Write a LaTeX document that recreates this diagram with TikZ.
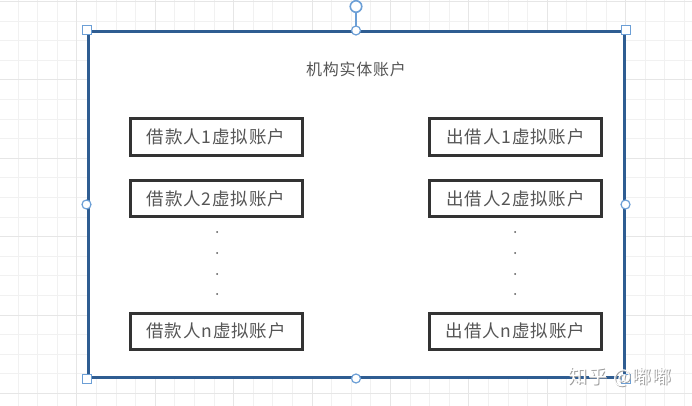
\documentclass[tikz,border=0pt]{standalone}
\usepackage{fontspec}
\newfontfamily\cjkls[LetterSpace=5]{Noto Sans CJK SC}
\newfontfamily\cjk{Noto Sans CJK SC}
\definecolor{gridminor}{HTML}{F1F1F1}
\definecolor{gridmajor}{HTML}{E6E6E6}
\definecolor{framecol}{HTML}{2F5D92}
\definecolor{handlecol}{HTML}{6C9FD6}
\definecolor{boxcol}{HTML}{333333}
\definecolor{txtcol}{HTML}{555555}
\begin{document}
\begin{tikzpicture}[x=1pt,y=-1pt,
  frame/.style={draw=framecol, line width=3pt, fill=white, minimum width=536pt, minimum height=345pt, inner sep=0pt},
  acct/.style={draw=boxcol, line width=3pt, fill=white, minimum width=172pt, minimum height=36pt, inner sep=0pt, text=txtcol, font=\cjkls\fontsize{17.5}{19}\selectfont},
  title/.style={text=txtcol, font=\cjkls\fontsize{16}{18}\selectfont, inner sep=0pt},
  sqhandle/.style={draw=handlecol, line width=1pt, fill=white, minimum size=9pt, inner sep=0pt},
  cihandle/.style={circle, draw=handlecol, line width=1.2pt, fill=white, minimum size=9pt, inner sep=0pt},
  rothandle/.style={circle, draw=handlecol, line width=1.6pt, fill=white, minimum size=11.5pt, inner sep=0pt},
  vdot/.style={circle, fill=txtcol, minimum size=2pt, inner sep=0pt},
  wmark/.style={font=\cjkls\fontsize{19}{21}\selectfont, inner sep=0pt}
]
\useasboundingbox (0,0) rectangle (692,406);
\fill[white] (0,0) rectangle (692,406);
% background grid
\foreach \k in {0,...,35} {
  \pgfmathsetmacro{\gx}{18+19.6*(\k-1)}
  \draw[gridminor, line width=1pt] (\gx,0) -- (\gx,406);
}
\foreach \k in {0,...,21} {
  \pgfmathsetmacro{\gy}{1.5+19.6*\k}
  \draw[gridminor, line width=1pt] (0,\gy) -- (692,\gy);
}
\foreach \k in {-1,0,...,8} {
  \pgfmathsetmacro{\gx}{76.8+78.4*\k}
  \draw[gridmajor, line width=1pt] (\gx,0) -- (\gx,406);
}
\foreach \k in {0,...,5} {
  \pgfmathsetmacro{\gy}{1.5+78.4*\k}
  \draw[gridmajor, line width=1pt] (0,\gy) -- (692,\gy);
}
% outer frame
\node[frame] (frame) at (356,204.5) {};
\node[title] (ttl) at (356,69.5) {机构实体账户};
% account boxes
\node[acct] (b1) at (216,137) {借款人1虚拟账户};
\node[acct] (b2) at (216,198.5) {借款人2虚拟账户};
\node[acct] (bn) at (216,331) {借款人n虚拟账户};
\node[acct] (l1) at (515.5,137) {出借人1虚拟账户};
\node[acct] (l2) at (515.5,198.5) {出借人2虚拟账户};
\node[acct] (ln) at (515.5,331) {出借人n虚拟账户};
% vertical dots
\foreach \y [count=\i] in {232,253,274,294} {
  \node[vdot] (ld\i) at (217,\y) {};
  \node[vdot] (rd\i) at (515,\y) {};
}
% selection handles
\node[rothandle] (rot) at (356,6.5) {};
\draw[handlecol, line width=1.3pt] (rot.south) -- (frame.north);
\node[sqhandle] (hnw) at (frame.north west) {};
\node[sqhandle] (hne) at (frame.north east) {};
\node[sqhandle] (hsw) at (frame.south west) {};
\node[sqhandle] (hse) at (frame.south east) {};
\node[cihandle] (hn) at (frame.north) {};
\node[cihandle] (hs) at (frame.south) {};
\node[cihandle] (hw) at (frame.west) {};
\node[cihandle] (he) at (frame.east) {};
% watermark
\node[wmark, text=gray!75] (wms) at (621,378.5) {知乎 @嘟嘟};
\node[wmark, text=white] (wm) at (620,377.5) {知乎 @嘟嘟};
\end{tikzpicture}
\end{document}
